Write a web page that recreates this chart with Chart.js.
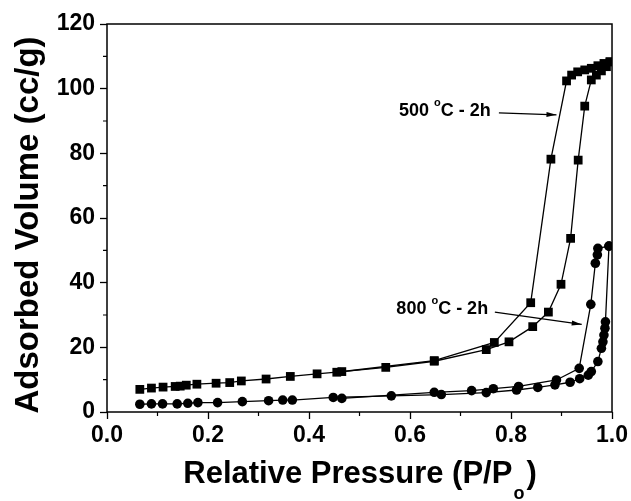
<!DOCTYPE html>
<html>
<head>
<meta charset="utf-8">
<script src="https://cdn.jsdelivr.net/npm/chart.js@4.4.1/dist/chart.umd.min.js"></script>
<style>
  html, body { margin: 0; padding: 0; background: #fff; }
  #wrap { width: 631px; height: 501px; }
</style>
</head>
<body>
<div id="wrap"><canvas id="chart-iso"></canvas></div>
<script>
// 500 C - 2h, adsorption branch
const p500Ads = [0.065, 0.088, 0.111, 0.135, 0.145, 0.157, 0.178, 0.216, 0.243, 0.266, 0.315, 0.363, 0.416, 0.465, 0.552, 0.648, 0.751, 0.796, 0.843, 0.874, 0.899, 0.918, 0.933, 0.946, 0.959, 0.969, 0.979, 0.989, 0.996];
const v500Ads = [7.0, 7.4, 7.7, 7.9, 8.0, 8.3, 8.6, 8.9, 9.1, 9.6, 10.2, 11.0, 11.8, 12.5, 13.8, 15.7, 19.3, 21.7, 26.4, 30.9, 39.5, 53.7, 77.9, 94.6, 102.7, 104.2, 105.5, 106.8, 108.3];
// 500 C - 2h, desorption branch
const p500Des = [0.996, 0.984, 0.972, 0.959, 0.946, 0.932, 0.920, 0.910, 0.879, 0.839, 0.767, 0.648, 0.455];
const v500Des = [108.3, 107.8, 107.1, 106.3, 105.8, 105.2, 104.2, 102.4, 78.2, 33.8, 21.5, 15.9, 12.3];
// 800 C - 2h, adsorption branch
const p800Ads = [0.065, 0.088, 0.110, 0.139, 0.160, 0.180, 0.219, 0.268, 0.320, 0.348, 0.367, 0.448, 0.563, 0.662, 0.751, 0.811, 0.853, 0.887, 0.917, 0.936, 0.953, 0.959, 0.972, 0.979, 0.982, 0.984, 0.986, 0.987, 0.994];
const v800Ads = [2.4, 2.5, 2.5, 2.5, 2.7, 2.9, 2.9, 3.2, 3.5, 3.7, 3.7, 4.5, 5.0, 5.4, 6.0, 6.8, 7.6, 8.4, 9.2, 10.3, 11.4, 12.5, 15.6, 19.7, 21.7, 23.8, 25.9, 27.9, 51.3];
// 800 C - 2h, desorption branch
const p800Des = [0.994, 0.972, 0.971, 0.967, 0.958, 0.935, 0.890, 0.815, 0.765, 0.722, 0.648, 0.465];
const v800Des = [51.3, 50.6, 48.6, 46.0, 33.3, 13.5, 9.9, 7.9, 7.2, 6.6, 6.1, 4.2];

const minorXTicks = [0.1, 0.3, 0.5, 0.7, 0.9];
const minorYTicks = [10, 30, 50, 70, 90, 110];
const seriesLabels = ["500 \u00B0C - 2h", "800 \u00B0C - 2h"];
const yTitle = "Adsorbed Volume (cc/g)";

// label anchors + arrows, in data units
const notes = [
  { temp: "500", x: 0.578, y: 93.2, from: [0.776, 92.5], to: [0.89, 91.9] },
  { temp: "800", x: 0.573, y: 32.0, from: [0.768, 30.9], to: [0.94, 27.1] }
];

function pts(xs, ys) {
  return xs.map((x, i) => ({ x: x, y: ys[i] }));
}

const FONT = "'Liberation Sans', Arial, Helvetica, sans-serif";

const framePlugin = {
  id: "frame",
  afterDraw(chart) {
    const ctx = chart.ctx;
    const a = chart.chartArea;
    const x = chart.scales.x, y = chart.scales.y;
    ctx.save();
    ctx.strokeStyle = "#000";
    ctx.lineWidth = 1.5;
    ctx.strokeRect(a.left, a.top, a.right - a.left, a.bottom - a.top);
    ctx.lineWidth = 1.2;
    ctx.beginPath();
    minorXTicks.forEach(v => {
      const px = x.getPixelForValue(v);
      ctx.moveTo(px, a.bottom); ctx.lineTo(px, a.bottom + 4);
    });
    minorYTicks.forEach(v => {
      const py = y.getPixelForValue(v);
      ctx.moveTo(a.left, py); ctx.lineTo(a.left - 4, py);
    });
    ctx.stroke();

    // annotations
    ctx.fillStyle = "#000";
    ctx.textBaseline = "middle";
    notes.forEach(n => {
      let tx = x.getPixelForValue(n.x), ty = y.getPixelForValue(n.y);
      ctx.font = "bold 18px " + FONT;
      ctx.textAlign = "left";
      ctx.fillText(n.temp + " ", tx, ty);
      tx += ctx.measureText(n.temp + " ").width;
      ctx.font = "bold 11px " + FONT;
      ctx.fillText("o", tx, ty - 8);
      tx += ctx.measureText("o").width;
      ctx.font = "bold 18px " + FONT;
      ctx.fillText("C - 2h", tx, ty);

      const x0 = x.getPixelForValue(n.from[0]), y0 = y.getPixelForValue(n.from[1]);
      const x1 = x.getPixelForValue(n.to[0]), y1 = y.getPixelForValue(n.to[1]);
      ctx.lineWidth = 1.2;
      ctx.beginPath(); ctx.moveTo(x0, y0); ctx.lineTo(x1, y1); ctx.stroke();
      const ang = Math.atan2(y1 - y0, x1 - x0);
      ctx.beginPath();
      ctx.moveTo(x1, y1);
      ctx.lineTo(x1 - 10 * Math.cos(ang) + 2.5 * Math.sin(ang), y1 - 10 * Math.sin(ang) - 2.5 * Math.cos(ang));
      ctx.lineTo(x1 - 10 * Math.cos(ang) - 2.5 * Math.sin(ang), y1 - 10 * Math.sin(ang) + 2.5 * Math.cos(ang));
      ctx.closePath(); ctx.fill();
    });

    // y title (rotated)
    ctx.save();
    ctx.translate(38, 225);
    ctx.rotate(-Math.PI / 2);
    ctx.font = "bold 33px " + FONT;
    ctx.textAlign = "center";
    ctx.textBaseline = "alphabetic";
    ctx.fillText(yTitle, 0, 0);
    ctx.restore();

    // x title with subscript
    ctx.textAlign = "left";
    ctx.font = "bold 31px " + FONT;
    const main = "Relative Pressure (P/P";
    const wMain = ctx.measureText(main).width;
    ctx.font = "bold 18px " + FONT;
    const wSub = ctx.measureText("o").width + 2;
    ctx.font = "bold 31px " + FONT;
    const wEnd = ctx.measureText(")").width;
    let sx = (a.left + a.right) / 2 - (wMain + wSub + wEnd) / 2;
    ctx.textBaseline = "alphabetic";
    ctx.fillText(main, sx, 483);
    sx += wMain + 1;
    ctx.font = "bold 18px " + FONT;
    ctx.fillText("o", sx, 499);
    sx += wSub;
    ctx.font = "bold 31px " + FONT;
    ctx.fillText(")", sx, 483);
    ctx.restore();
  }
};

const ctx = document.getElementById("chart-iso").getContext("2d");

const lineStyle = {
  showLine: true,
  borderColor: "#000",
  borderWidth: 1.3,
  backgroundColor: "#000",
  pointBorderWidth: 0,
  pointHoverRadius: 0,
  tension: 0
};

new Chart(ctx, {
  type: "scatter",
  data: {
    datasets: [
      Object.assign({ label: seriesLabels[0] + " ads", data: pts(p500Ads, v500Ads), pointStyle: "rect", pointRadius: 6.2 }, lineStyle),
      Object.assign({ label: seriesLabels[0] + " des", data: pts(p500Des, v500Des), pointStyle: "rect", pointRadius: 6.2 }, lineStyle),
      Object.assign({ label: seriesLabels[1] + " ads", data: pts(p800Ads, v800Ads), pointStyle: "circle", pointRadius: 4.8 }, lineStyle),
      Object.assign({ label: seriesLabels[1] + " des", data: pts(p800Des, v800Des), pointStyle: "circle", pointRadius: 4.8 }, lineStyle)
    ]
  },
  options: {
    responsive: true,
    maintainAspectRatio: false,
    animation: false,
    layout: { padding: { top: 24, right: 17, left: 0, bottom: 0 } },
    plugins: {
      legend: { display: false },
      tooltip: { enabled: false }
    },
    scales: {
      x: {
        type: "linear",
        min: 0,
        max: 1,
        afterFit: s => { s.height = 89; },
        border: { display: false },
        grid: { drawOnChartArea: false, drawTicks: true, tickLength: 7, tickColor: "#000", tickWidth: 1.3 },
        ticks: {
          stepSize: 0.2,
          padding: 3,
          color: "#000",
          font: { size: 23, weight: "bold", family: FONT },
          callback: v => v.toFixed(1)
        }
      },
      y: {
        type: "linear",
        min: 0,
        max: 120,
        afterFit: s => { s.width = 107; },
        border: { display: false },
        grid: { drawOnChartArea: false, drawTicks: true, tickLength: 7, tickColor: "#000", tickWidth: 1.3 },
        ticks: {
          stepSize: 20,
          padding: 5,
          color: "#000",
          font: { size: 23, weight: "bold", family: FONT }
        }
      }
    }
  },
  plugins: [framePlugin]
});
</script>
</body>
</html>
